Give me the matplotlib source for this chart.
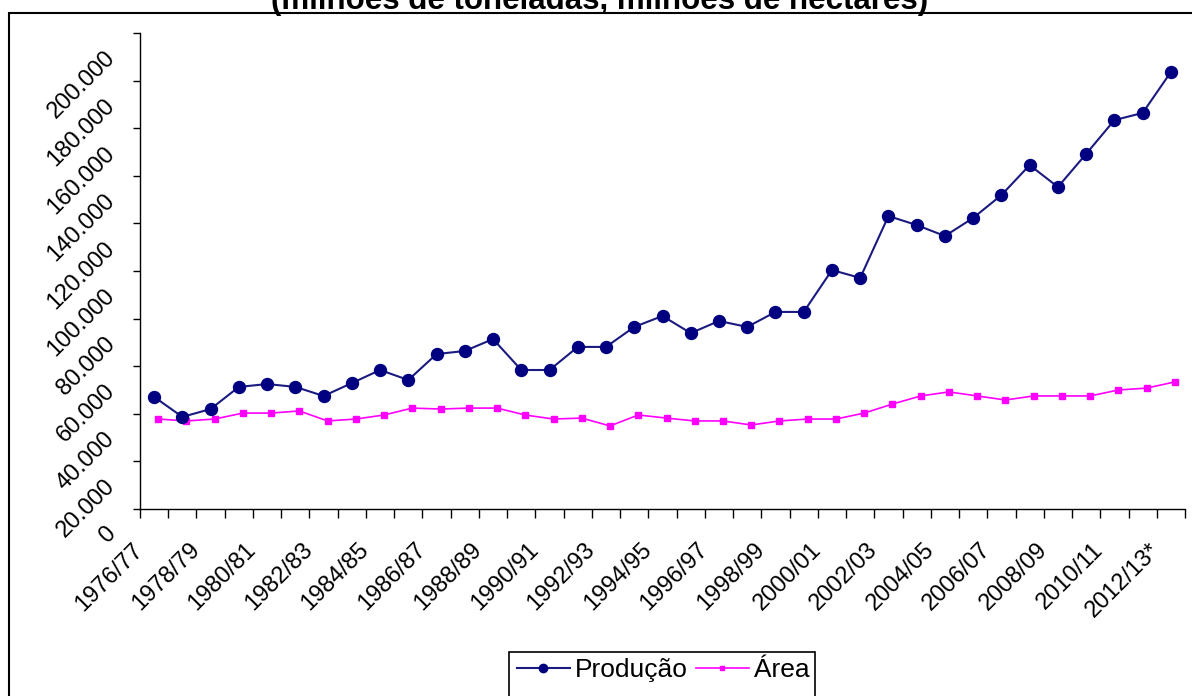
import matplotlib
matplotlib.use("Agg")
import matplotlib.pyplot as plt
import matplotlib.patches as patches
import matplotlib.transforms as mtransforms
import numpy as np

plt.rcParams['font.family'] = ['Liberation Sans', 'DejaVu Sans']

# safras (every season is a category; only every other one is labelled)
safras = ["1976/77", "1977/78", "1978/79", "1979/80", "1980/81", "1981/82",
          "1982/83", "1983/84", "1984/85", "1985/86", "1986/87", "1987/88",
          "1988/89", "1989/90", "1990/91", "1991/92", "1992/93", "1993/94",
          "1994/95", "1995/96", "1996/97", "1997/98", "1998/99", "1999/00",
          "2000/01", "2001/02", "2002/03", "2003/04", "2004/05", "2005/06",
          "2006/07", "2007/08", "2008/09", "2009/10", "2010/11", "2011/12",
          "2012/13*"]

# mil toneladas
producao = [47100, 38700, 42000, 51300, 52500, 51300, 47500, 52900, 58400,
            54200, 65100, 66400, 71400, 58400, 58400, 68100, 68100, 76500,
            81100, 73900, 79000, 76500, 82800, 82800, 100400, 97100, 123100,
            119300, 114700, 122300, 131900, 144500, 135300, 149200, 163400,
            166400, 183600]

# mil hectares
area = [37800, 37000, 37800, 40300, 40300, 41200, 37000, 37800, 39500,
        42400, 42000, 42400, 42400, 39500, 37800, 38200, 34900, 39500,
        38200, 37000, 37000, 35300, 37000, 37800, 37800, 40300, 44100,
        47500, 49200, 47500, 45800, 47500, 47500, 47500, 50000, 50800,
        53400]

yticks = list(range(0, 200001, 20000))
titulo = "(milhões de toneladas, milhões de hectares)"

W, H = 1192, 696
fig = plt.figure(figsize=(W / 100, H / 100), dpi=100)
ax = fig.add_axes([140 / W, 1 - 509 / H, (1185 - 140) / W, (509 - 33) / H])

x = np.arange(len(safras))

ax.plot(x, producao, color='#1a1a80', lw=1.5, marker='o', ms=8.6,
        mfc='#000080', mec='#000080', label='Produção', zorder=3)
# the area series is drawn a few pixels to the right in the original
shift = mtransforms.ScaledTranslation(0.04, 0, fig.dpi_scale_trans)
ax.plot(x, area, color='#ff00ff', lw=1.2, marker='s', ms=4,
        mfc='#ff00ff', mec='#ff00ff', label='Área',
        transform=ax.transData + shift, zorder=2)

ax.set_xlim(-0.5, len(safras) - 0.5)
ax.set_ylim(0, 200000)

for s in ['top', 'right']:
    ax.spines[s].set_visible(False)
for s in ['left', 'bottom']:
    ax.spines[s].set_linewidth(1.0)
    ax.spines[s].set_color('black')

# y axis
ax.set_yticks(yticks)
ax.set_yticklabels([f"{v:,}".replace(",", ".") for v in yticks])
ax.tick_params(axis='y', direction='out', length=5, width=1, pad=21,
               labelsize=17)
down = mtransforms.ScaledTranslation(0, -0.14, fig.dpi_scale_trans)
for lab in ax.get_yticklabels():
    lab.set_rotation(45)
    lab.set_ha('right')
    lab.set_va('top')
    lab.set_rotation_mode('anchor')
    lab.set_transform(lab.get_transform() + down)

# x axis: tick marks between categories, labels every second season
ax.set_xticks(np.arange(-0.5, len(safras)), minor=True)
ax.set_xticks(x[::2])
ax.set_xticklabels(safras[::2])
ax.tick_params(axis='x', which='minor', direction='out', length=6.5, width=1)
ax.tick_params(axis='x', which='major', length=0, pad=21.5, labelsize=17)
left = mtransforms.ScaledTranslation(-0.22, 0, fig.dpi_scale_trans)
for lab in ax.get_xticklabels():
    lab.set_rotation(45)
    lab.set_ha('right')
    lab.set_va('top')
    lab.set_rotation_mode('anchor')
    lab.set_transform(lab.get_transform() + left)

# title, cut off by the top edge like in the original
fig.text(600 / W, 1 - 9 / H, titulo, ha='center', va='baseline',
         fontsize=22.5, fontweight='bold')

# outer chart frame (runs off the right and bottom)
fig.patches.append(patches.Rectangle((9 / W, -0.1), 1.2, 1.1 - 13 / H,
                                     transform=fig.transFigure, fill=False,
                                     ec='black', lw=1.5))

# legend, its box also runs off the bottom
leg = ax.legend(loc='center left', bbox_to_anchor=(517 / W, 1 - 670 / H),
                bbox_transform=fig.transFigure, ncol=2, frameon=False,
                fontsize=19, handlelength=2.0, handletextpad=0.2,
                columnspacing=0.3, borderpad=0, borderaxespad=0)
leg.legend_handles[0].set_markersize(6)
leg.legend_handles[1].set_markersize(3.5)
fig.patches.append(patches.Rectangle((509 / W, -0.1), (815 - 509) / W,
                                     0.1 + 1 - 652 / H,
                                     transform=fig.transFigure, fill=False,
                                     ec='black', lw=1.2))

fig.savefig("out.png", dpi=100)
